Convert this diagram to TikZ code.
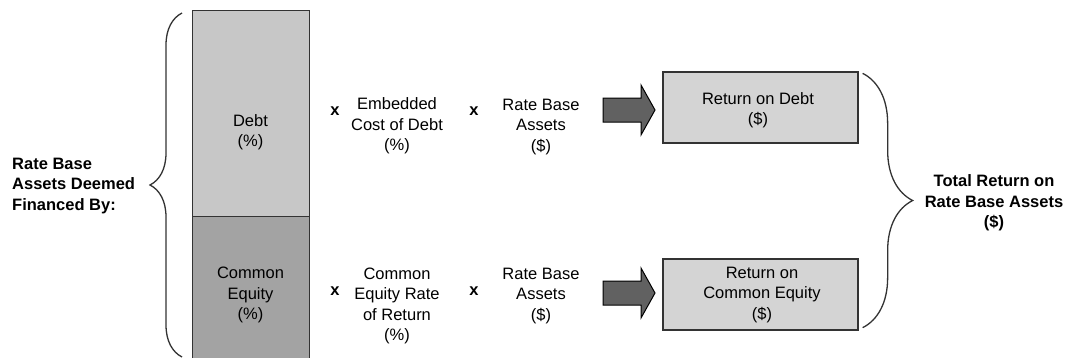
\documentclass[tikz,border=0pt]{standalone}
\usepackage{fontspec}
\setmainfont{Liberation Sans}
\usetikzlibrary{positioning,decorations.pathreplacing}

\definecolor{barlight}{rgb}{0.780000, 0.780000, 0.780000}
\definecolor{bardark}{rgb}{0.640000, 0.640000, 0.640000}
\definecolor{boxfill}{rgb}{0.830000, 0.830000, 0.830000}
\definecolor{arrowfill}{rgb}{0.380000, 0.380000, 0.380000}
\definecolor{edgecolor}{rgb}{0.200000, 0.200000, 0.200000}

\tikzset{
  txt/.style={font=\fontsize{16.5}{20.5}\selectfont, align=center, inner sep=0pt},
  boldtxt/.style={txt, font=\fontsize{16.5}{20.5}\selectfont\bfseries},
  barbox/.style={draw=edgecolor, line width=1.3pt, inner sep=0pt},
  retbox/.style={draw=edgecolor, line width=1.3pt, fill=boxfill, minimum width=195pt, minimum height=71pt, inner sep=0pt},
  bracket/.style={draw=edgecolor, line width=1.3pt, decorate},
  blockarrow/.style={draw=black, line width=1pt, fill=arrowfill, line join=miter}
}

\begin{document}
\begin{tikzpicture}[x=1pt,y=-1pt]
\clip (0,0) rectangle (1067,357);
% stacked bar
\node[barbox, fill=barlight, anchor=north west, minimum width=117pt, minimum height=206pt] (debtbar) at (192,10) {};
\node[barbox, fill=bardark, anchor=north west, minimum width=117pt, minimum height=150pt] (equitybar) at (192,216) {};
\node[txt] (debt) at (250.5,132) {Debt\\(\%)};
\node[txt] (equity) at (250.5,295) {Common\\Equity\\(\%)};
% left brace and label
\coordinate (lbrbot) at (182,357);
\coordinate (lbrtop) at (182,13);
\draw[bracket, decoration={brace, amplitude=32pt}] (lbrbot) -- (lbrtop);
\node[boldtxt, align=left, anchor=west] (financed) at (12,186) {Rate Base\\Assets Deemed\\Financed By:};
% debt row
\node[boldtxt] (times1) at (335,111) {x};
\node[txt] (embcost) at (397,126) {Embedded\\Cost of Debt\\(\%)};
\node[boldtxt] (times2) at (474,111) {x};
\node[txt] (assets1) at (541,127) {Rate Base\\Assets\\(\$)};
\fill[blockarrow] (603,98) -- (641,98) -- (641,85) -- (655,110) -- (641,135) -- (641,122) -- (603,122) -- cycle;
\node[retbox] (retdebt) at (760.5,107.5) {};
\node[txt] (retdebttxt) at (758,110) {Return on Debt\\(\$)};
% equity row
\node[boldtxt] (times3) at (335,291) {x};
\node[txt] (eqrate) at (397,306) {Common\\Equity Rate\\of Return\\(\%)};
\node[boldtxt] (times4) at (474,291) {x};
\node[txt] (assets2) at (541,296) {Rate Base\\Assets\\(\$)};
\fill[blockarrow] (603,281) -- (641,281) -- (641,268) -- (655,293) -- (641,318) -- (641,305) -- (603,305) -- cycle;
\node[retbox] (reteq) at (760.5,294.5) {};
\node[txt] (reteqtxt) at (762,295) {Return on\\Common Equity\\(\$)};
% right brace and total
\draw[bracket, decoration={brace, amplitude=50pt}] ([xshift=4pt,yshift=-2pt]retdebt.north east) -- ([xshift=4pt,yshift=3pt]reteq.south east);
\node[boldtxt] (total) at (994,203) {Total Return on\\Rate Base Assets\\(\$)};
\end{tikzpicture}
\end{document}
